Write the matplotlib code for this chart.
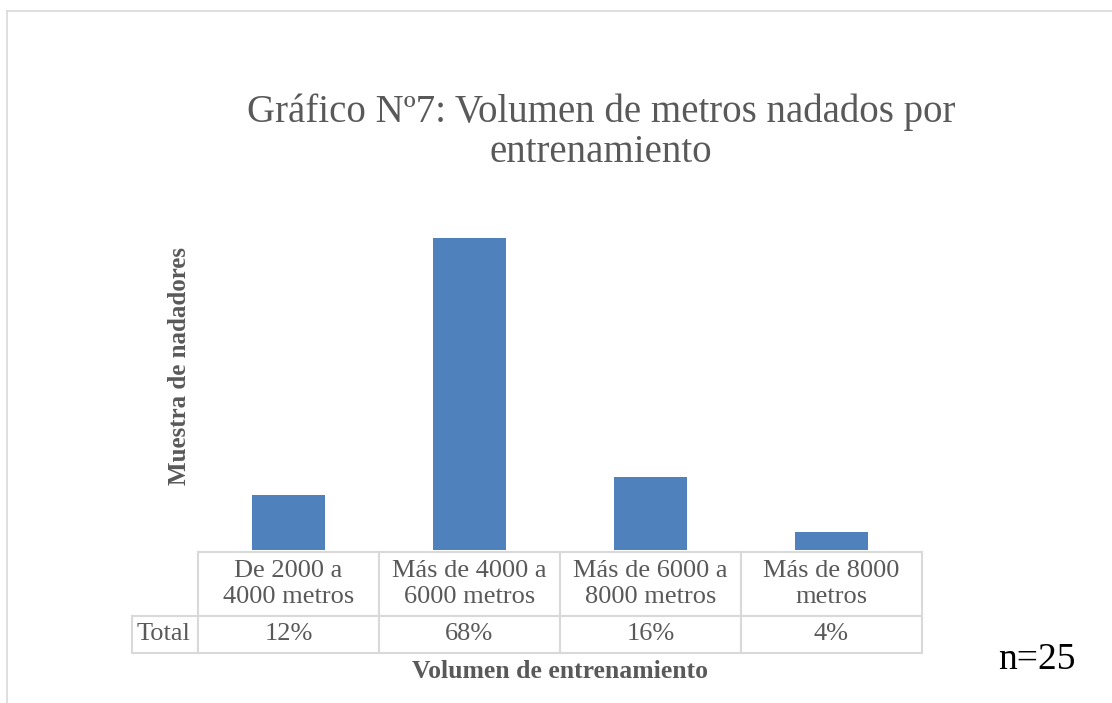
import matplotlib
matplotlib.use("Agg")
import matplotlib.pyplot as plt
from matplotlib.lines import Line2D

categories = ["De 2000 a\n4000 metros", "Más de 4000 a\n6000 metros",
              "Más de 6000 a\n8000 metros", "Más de 8000\nmetros"]
percentages = [12, 68, 16, 4]
row_label = "Total"
title_lines = ["Gráfico Nº7: Volumen de metros nadados por", "entrenamiento"]
y_label = "Muestra de nadadores"
x_label = "Volumen de entrenamiento"
note = "n=25"

SERIF = "Liberation Serif"
GREY = "#595959"
GRID = "#d9d9d9"

W, H = 1112, 703
fig = plt.figure(figsize=(W / 100, H / 100), dpi=100)

# chart-area border (cropped: only top and left visible)
fig.add_artist(Line2D([7 / W, 7 / W], [0, 1 - 11 / H], transform=fig.transFigure,
                      color=GRID, lw=1.2))
fig.add_artist(Line2D([7 / W, 1], [1 - 11 / H, 1 - 11 / H], transform=fig.transFigure,
                      color=GRID, lw=1.2))

# plot area in pixels: x 198..922, y 183..550
left, right, top, bottom = 198, 922, 183, 550
ax = fig.add_axes([left / W, 1 - bottom / H, (right - left) / W, (bottom - top) / H])
x = range(len(categories))
ax.bar(x, percentages, width=0.4, color="#4f81bd")
ax.set_xlim(-0.5, len(categories) - 0.5)
ax.set_ylim(0, 80)
ax.axis("off")

# data table below the plot
cell_text = [[""] + categories, [row_label] + [f"{p}%" for p in percentages]]
col_w = [66] + [181] * len(categories)
tab_left, tab_top, tab_bottom = 132, 552, 653
plot_w, plot_h = right - left, bottom - top
tbl = ax.table(cellText=cell_text, cellLoc="center",
               colWidths=[c / sum(col_w) for c in col_w],
               bbox=[(tab_left - left) / plot_w, -(tab_bottom - bottom) / plot_h,
                     (right - tab_left) / plot_w, (tab_bottom - tab_top) / plot_h])
tbl.auto_set_font_size(False)
row_h = [64, 37]
for (r, c), cell in tbl.get_celld().items():
    cell.set_height(row_h[r] / sum(row_h))
    cell.set_edgecolor(GRID)
    cell.set_linewidth(1.5)
    cell.get_text().set_fontsize(19)
    cell.get_text().set_fontfamily(SERIF)
    cell.get_text().set_color(GREY)
    cell.get_text().set_linespacing(1.25)
    if r == 0 and c == 0:
        cell.visible_edges = ""
    if c == 0:
        cell.set_text_props(ha="left")
        cell.PAD = 0.07

for i, line in enumerate(title_lines):
    fig.text(601 / W, 1 - (122 + 40 * i) / H, line, ha="center", va="baseline",
             fontsize=28, family=SERIF, color=GREY)
fig.text(180 / W, 1 - 366 / H, y_label, ha="center", va="center", rotation=90,
         fontsize=18, family=SERIF, fontweight="bold", color=GREY)
fig.text(560 / W, 1 - 672 / H, x_label, ha="center", va="center",
         fontsize=18.5, family=SERIF, fontweight="bold", color=GREY)
fig.text(1037 / W, 1 - 660 / H, note, ha="center", va="center",
         fontsize=27, family=SERIF, color="black")

fig.savefig("out.png", dpi=100)
